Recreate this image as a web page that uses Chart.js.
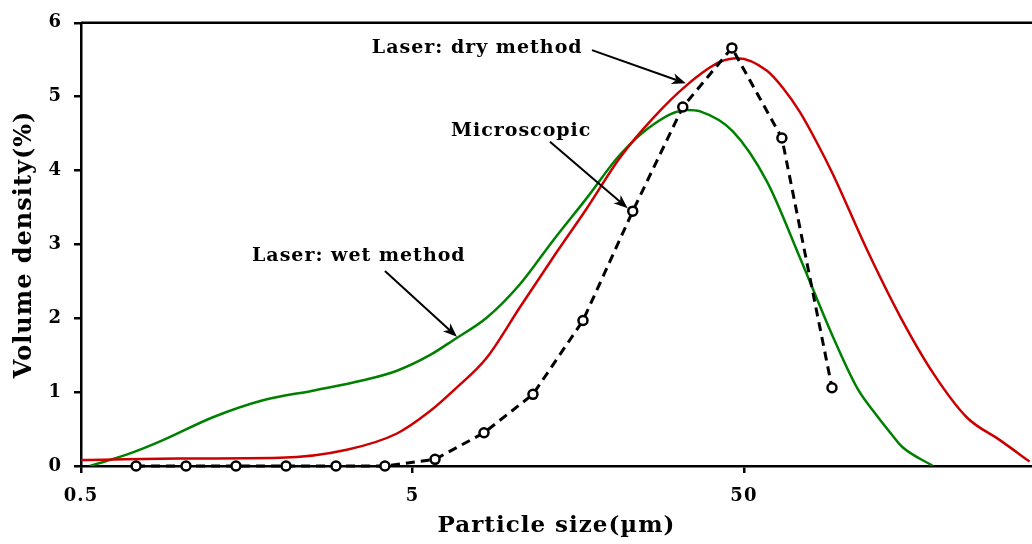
<!DOCTYPE html>
<html>
<head>
<meta charset="utf-8">
<script src="https://cdn.jsdelivr.net/npm/chart.js@4.4.1/dist/chart.umd.min.js"></script>
<style>
  html, body { margin: 0; padding: 0; background: #fff; overflow: hidden; }
  #wrap { width: 1032px; height: 544px; position: relative; }
</style>
</head>
<body>
<div id="wrap"><canvas id="psd"></canvas></div>
<script>
// Particle size distributions (size in µm, volume density in %)
const dryX = [0.5, 0.99, 1.99, 3.17, 4.49, 5.64, 6.72, 8.39, 10.55, 13.27, 16.8, 21.1, 26.6, 33.7, 42.3, 47.9, 58.7, 65.5, 73.8, 83.0, 92.8, 117.5, 147.8, 186, 235, 296, 364];
const dryY = [0.08, 0.1, 0.11, 0.22, 0.44, 0.74, 1.04, 1.47, 2.15, 2.82, 3.49, 4.17, 4.71, 5.16, 5.47, 5.52, 5.35, 5.12, 4.79, 4.38, 3.95, 2.93, 2.03, 1.26, 0.66, 0.35, 0.06];

const wetX = [0.532, 0.703, 0.884, 1.25, 1.77, 2.5, 3.55, 4.49, 5.64, 6.62, 8.39, 10.55, 13.27, 16.8, 21.1, 26.6, 33.7, 36.9, 46.3, 58.7, 73.8, 92.8, 110, 125, 140, 150, 186];
const wetY = [0, 0.17, 0.35, 0.66, 0.89, 1.02, 1.16, 1.29, 1.5, 1.7, 2.01, 2.46, 3.05, 3.63, 4.21, 4.62, 4.82, 4.8, 4.53, 3.85, 2.82, 1.75, 1.05, 0.7, 0.42, 0.26, 0];

const microX = [0.733, 1.037, 1.467, 2.077, 2.939, 4.13, 5.85, 8.22, 11.55, 16.35, 23.1, 32.7, 46.0, 65.1, 92.2];
const microY = [0, 0, 0, 0, 0, 0, 0.09, 0.45, 0.97, 1.97, 3.45, 4.86, 5.66, 4.44, 1.06];

const xTicks = [0.5, 5, 50];
const yTicks = [0, 1, 2, 3, 4, 5, 6];

// Callout labels: text anchor, arrow start and arrow tip (data units)
const calloutText = ["Laser: dry method", "Microscopic", "Laser: wet method"];
const calloutAt = [[3.77, 5.66], [6.53, 4.54], [1.64, 2.84]];
const arrowFrom = [[17.4, 5.63], [13.0, 4.39], [4.13, 2.64]];
const arrowTo = [[33.4, 5.18], [22.3, 3.49], [6.81, 1.75]];

const FONT = "'DejaVu Serif', serif";

function toPoints(xs, ys) {
  return xs.map((x, i) => ({ x: x, y: ys[i] }));
}

function drawArrow(ctx, x1, y1, x2, y2) {
  const ang = Math.atan2(y2 - y1, x2 - x1);
  const len = 14, half = 5.5, notch = 4;
  const bx = x2 - len * Math.cos(ang), by = y2 - len * Math.sin(ang);
  const nx = x2 - (len - notch) * Math.cos(ang), ny = y2 - (len - notch) * Math.sin(ang);
  ctx.beginPath();
  ctx.moveTo(x1, y1);
  ctx.lineTo(nx, ny);
  ctx.stroke();
  ctx.beginPath();
  ctx.moveTo(x2, y2);
  ctx.lineTo(bx - half * Math.sin(ang), by + half * Math.cos(ang));
  ctx.lineTo(nx, ny);
  ctx.lineTo(bx + half * Math.sin(ang), by - half * Math.cos(ang));
  ctx.closePath();
  ctx.fill();
}

// wider letter spacing for every text on the canvas
const spacingPlugin = {
  id: "spacing",
  beforeDraw(chart) {
    chart.ctx.letterSpacing = "1px";
  }
};

// Top frame line plus the arrow callouts
const calloutPlugin = {
  id: "callouts",
  afterDatasetsDraw(chart) {
    const { ctx, chartArea } = chart;
    const xs = chart.scales.x, ys = chart.scales.y;
    ctx.save();
    ctx.strokeStyle = "#000";
    ctx.lineWidth = 2.5;
    ctx.beginPath();
    ctx.moveTo(chartArea.left, chartArea.top);
    ctx.lineTo(chartArea.right, chartArea.top);
    ctx.stroke();

    ctx.fillStyle = "#000";
    ctx.font = "bold 19px " + FONT;
    ctx.textAlign = "left";
    ctx.textBaseline = "middle";
    ctx.lineWidth = 2;
    calloutText.forEach((t, i) => {
      ctx.fillText(t, xs.getPixelForValue(calloutAt[i][0]), ys.getPixelForValue(calloutAt[i][1]));
      drawArrow(ctx,
        xs.getPixelForValue(arrowFrom[i][0]), ys.getPixelForValue(arrowFrom[i][1]),
        xs.getPixelForValue(arrowTo[i][0]), ys.getPixelForValue(arrowTo[i][1]));
    });
    ctx.restore();
  }
};

new Chart(document.getElementById("psd"), {
  type: "line",
  data: {
    datasets: [
      {
        label: "Microscopic",
        data: toPoints(microX, microY),
        borderColor: "#000",
        borderWidth: 3,
        borderDash: [9, 6],
        tension: 0,
        pointRadius: 4.5,
        pointBorderWidth: 2.5,
        pointBorderColor: "#000",
        pointBackgroundColor: "#fff",
        clip: false
      },
      {
        label: "Laser: dry method",
        data: toPoints(dryX, dryY),
        borderColor: "#cc0000",
        borderWidth: 2.5,
        cubicInterpolationMode: "monotone",
        pointRadius: 0
      },
      {
        label: "Laser: wet method",
        data: toPoints(wetX, wetY),
        borderColor: "#008000",
        borderWidth: 2.5,
        cubicInterpolationMode: "monotone",
        pointRadius: 0
      }
    ]
  },
  options: {
    responsive: true,
    maintainAspectRatio: false,
    animation: false,
    layout: { autoPadding: false, padding: { top: 20, right: 0, left: 0, bottom: 0 } },
    plugins: { legend: { display: false }, tooltip: { enabled: false } },
    scales: {
      x: {
        type: "logarithmic",
        min: 0.5,
        max: 370,
        afterBuildTicks: (s) => { s.ticks = xTicks.map((v) => ({ value: v })); },
        afterFit: (s) => { s.height = 78; s.paddingRight = 0; },
        border: { display: true, color: "#000", width: 2.5 },
        grid: { drawOnChartArea: false, drawTicks: true, tickLength: 7, color: "#000", lineWidth: 2.5 },
        ticks: {
          color: "#000",
          padding: 13,
          maxRotation: 0,
          autoSkip: false,
          font: { family: FONT, size: 18, weight: "bold" },
          callback: (v) => String(v)
        },
        title: {
          display: true,
          text: "Particle size(µm)",
          color: "#000",
          font: { family: FONT, size: 23, weight: "bold" },
          padding: { top: 0, bottom: 4 }
        }
      },
      y: {
        min: 0,
        max: 6,
        afterBuildTicks: (s) => { s.ticks = yTicks.map((v) => ({ value: v })); },
        afterFit: (s) => { s.width = 81; },
        border: { display: true, color: "#000", width: 2.5 },
        grid: { drawOnChartArea: false, drawTicks: true, tickLength: 7, color: "#000", lineWidth: 2.5 },
        ticks: {
          color: "#000",
          padding: 12,
          font: { family: FONT, size: 18, weight: "bold" }
        },
        title: {
          display: true,
          text: "Volume density(%)",
          color: "#000",
          font: { family: FONT, size: 24, weight: "bold" },
          padding: { top: 10, bottom: 0 }
        }
      }
    }
  },
  plugins: [spacingPlugin, calloutPlugin]
});
</script>
</body>
</html>
